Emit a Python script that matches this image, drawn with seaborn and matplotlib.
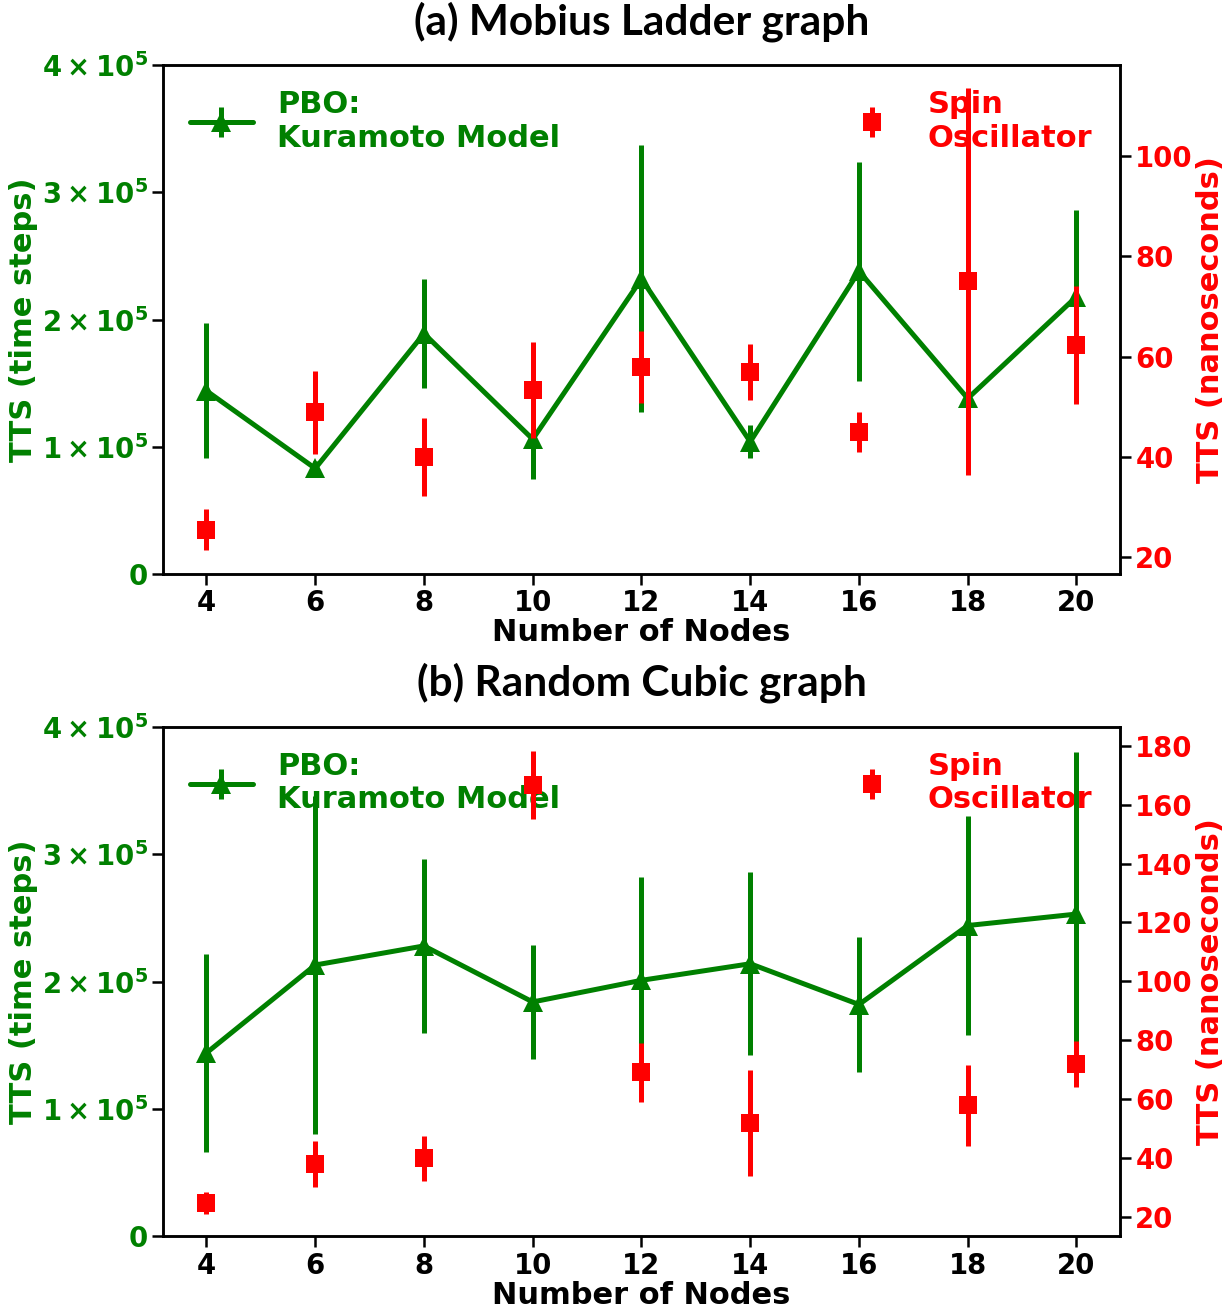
import numpy as np
import pandas as pd
import matplotlib
matplotlib.use("Agg")
import matplotlib.pyplot as plt
import seaborn as sns
from matplotlib.container import ErrorbarContainer

# ---------------------------------------------------------------- data
nodes = [4, 6, 8, 10, 12, 14, 16, 18, 20]

# (a) Mobius ladder graphs
mobius_kuramoto_mean = [1.44e5, 0.83e5, 1.89e5, 1.06e5, 2.32e5, 1.04e5, 2.38e5, 1.38e5, 2.18e5]
mobius_kuramoto_err = [0.53e5, 0.06e5, 0.43e5, 0.31e5, 1.05e5, 0.13e5, 0.86e5, 0.30e5, 0.68e5]
mobius_spin_mean = [25.5, 48.9, 40.0, 53.4, 58.0, 56.9, 45.0, 75.0, 62.3]
mobius_spin_err = [4.1, 8.3, 7.8, 9.6, 7.2, 5.6, 3.9, 38.5, 11.7]

# (b) random cubic graphs
cubic_kuramoto_mean = [1.44e5, 2.13e5, 2.28e5, 1.84e5, 2.01e5, 2.14e5, 1.82e5, 2.44e5, 2.53e5]
cubic_kuramoto_err = [0.78e5, 1.33e5, 0.68e5, 0.45e5, 0.81e5, 0.72e5, 0.53e5, 0.86e5, 1.27e5]
cubic_spin_mean = [24.8, 38.0, 40.0, 166.6, 69.1, 52.0, np.nan, 57.9, 71.9]
cubic_spin_err = [3.6, 7.9, 7.6, 11.6, 10.0, 18.0, np.nan, 13.7, 7.9]

left_ticks = [0, 1e5, 2e5, 3e5, 4e5]
left_ticklabels = ["0", r"$1\times10^{5}$", r"$2\times10^{5}$", r"$3\times10^{5}$", r"$4\times10^{5}$"]
mobius_right_ticks = [20, 40, 60, 80, 100]
cubic_right_ticks = [20, 40, 60, 80, 100, 120, 140, 160, 180]

GREEN = "#008000"
RED = "#ff0000"

# ---------------------------------------------------------------- style
sns.set_style("ticks")
plt.rcParams.update({
    "font.family": ["DejaVu Sans"],
    "font.weight": "bold",
    "axes.labelweight": "bold",
    "mathtext.default": "bf",
    "axes.linewidth": 1.8,
    "axes.edgecolor": "black",
    "xtick.major.size": 8,
    "ytick.major.size": 8,
    "xtick.major.width": 1.8,
    "ytick.major.width": 1.8,
    "xtick.color": "black",
    "ytick.color": "black",
})

TICK_FS = 19.8
LABEL_FS = 22
LW = 3.6

fig = plt.figure(figsize=(12.29, 13.10), dpi=100)


def draw_panel(rect, title, title_y, k_mean, k_err, s_mean, s_err,
               right_lim, right_ticks, xlabel_y):
    ax = fig.add_axes(rect)
    ax2 = ax.twinx()

    # Kuramoto (left axis): connected line with triangles + vertical error bars
    df_k = pd.DataFrame({"nodes": nodes, "tts": k_mean})
    sns.lineplot(data=df_k, x="nodes", y="tts", ax=ax, color=GREEN,
                 linewidth=LW, marker="^", markersize=14,
                 markeredgewidth=0, markeredgecolor=GREEN, errorbar=None)
    k_line = ax.lines[-1]
    k_eb = ax.errorbar(nodes, k_mean, yerr=k_err, fmt="none",
                       ecolor=GREEN, elinewidth=LW)

    # spin oscillator (right axis): squares + vertical error bars
    df_s = pd.DataFrame({"nodes": nodes, "tts": s_mean})
    sns.lineplot(data=df_s, x="nodes", y="tts", ax=ax2, color=RED,
                 linestyle="", marker="s", markersize=13,
                 markeredgewidth=0, markeredgecolor=RED, errorbar=None)
    s_line = ax2.lines[-1]
    s_eb = ax2.errorbar(nodes, s_mean, yerr=s_err, fmt="none",
                        ecolor=RED, elinewidth=LW)

    # axes limits and ticks
    ax.set_xlim(3.2, 20.8)
    ax.set_ylim(0, 4e5)
    ax2.set_ylim(*right_lim)
    ax.set_xticks(nodes)
    ax.set_xticklabels([str(n) for n in nodes])
    ax.set_yticks(left_ticks)
    ax.set_yticklabels(left_ticklabels)
    ax2.set_yticks(right_ticks)
    ax2.set_yticklabels([str(t) for t in right_ticks])

    ax.tick_params(axis="x", labelsize=TICK_FS, labelcolor="black", pad=3)
    ax.tick_params(axis="y", labelsize=TICK_FS, labelcolor=GREEN, pad=3)
    ax2.tick_params(axis="y", labelsize=TICK_FS, labelcolor=RED, pad=3)
    for lab in ax.get_xticklabels() + ax.get_yticklabels() + ax2.get_yticklabels():
        lab.set_fontweight("bold")

    for a in (ax, ax2):
        for sp in a.spines.values():
            sp.set_visible(True)
            sp.set_color("black")
            sp.set_linewidth(1.8)

    ax.set_xlabel("Number of Nodes", fontsize=LABEL_FS, fontweight="bold", color="black")
    ax.xaxis.set_label_coords(0.5, xlabel_y)
    ax.set_ylabel("TTS (time steps)", fontsize=LABEL_FS, fontweight="bold", color=GREEN)
    ax.yaxis.set_label_coords(-0.131, 0.5)
    ax2.set_ylabel("TTS (nanoseconds)", fontsize=LABEL_FS, fontweight="bold", color=RED)
    ax2.yaxis.set_label_coords(1.079, 0.5)

    # legends sit underneath the data marks
    k_handle = ErrorbarContainer((k_line, (), k_eb.lines[2]), has_xerr=False, has_yerr=True)
    s_handle = ErrorbarContainer((s_line, (), s_eb.lines[2]), has_xerr=False, has_yerr=True)
    leg_k = ax.legend([k_handle], ["PBO:\nKuramoto Model"], loc="upper left",
                      bbox_to_anchor=(0.028, 0.951), frameon=False,
                      prop={"size": LABEL_FS, "weight": "bold"},
                      handlelength=2.06, handletextpad=0.8,
                      borderaxespad=0, borderpad=0, labelcolor=GREEN)
    leg_k.set_zorder(1)
    ax.add_artist(leg_k)
    leg_s = ax.legend([s_handle], ["Spin\nOscillator"], loc="upper right",
                      bbox_to_anchor=(0.971, 0.951), frameon=False,
                      prop={"size": LABEL_FS, "weight": "bold"},
                      handlelength=2.06, handletextpad=0.8,
                      borderaxespad=0, borderpad=0, labelcolor=RED)
    leg_s.set_zorder(1)

    fig.text(rect[0] + rect[2] / 2, title_y, title, ha="center", va="center",
             fontsize=30.5, fontweight="bold", family=["Lato", "DejaVu Sans"],
             color="black")
    return ax, ax2


draw_panel([0.1326, 0.5618, 0.7787, 0.3885], "(a) Mobius Ladder graph",
           1 - 22 / 1310,
           mobius_kuramoto_mean, mobius_kuramoto_err,
           mobius_spin_mean, mobius_spin_err,
           (16.7, 118.1), mobius_right_ticks, -0.087)

draw_panel([0.1326, 0.0562, 0.7787, 0.389], "(b) Random Cubic graph",
           1 - 683 / 1310,
           cubic_kuramoto_mean, cubic_kuramoto_err,
           cubic_spin_mean, cubic_spin_err,
           (13.45, 186.4), cubic_right_ticks, -0.087)

fig.savefig("out.png", dpi=100)
